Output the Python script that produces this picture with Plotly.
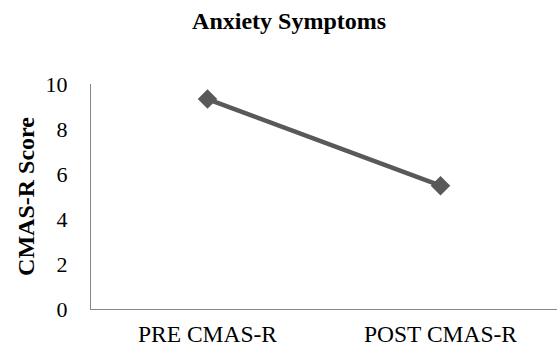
import plotly.graph_objects as go

categories = ["PRE CMAS-R", "POST CMAS-R"]
scores = [9.33, 5.48]
y_ticks = [0, 2, 4, 6, 8, 10]

fig = go.Figure()
fig.add_trace(go.Scatter(
    x=categories, y=scores, mode="lines+markers",
    line=dict(color="#595959", width=4.5),
    marker=dict(symbol="diamond", size=15, color="#595959"),
    showlegend=False,
))

font_family = "Liberation Serif, Times New Roman, serif"
fig.update_layout(
    width=557, height=346,
    margin=dict(l=91, r=0, t=84, b=37),
    paper_bgcolor="white", plot_bgcolor="white",
    font=dict(family=font_family, color="black", size=22),
    title=dict(text="<b>Anxiety Symptoms</b>", x=0.519, xref="container", xanchor="center",
               y=0.94, yref="container", yanchor="middle",
               font=dict(family=font_family, size=24, color="black")),
    xaxis=dict(showline=True, linecolor="#868686", linewidth=1.3, showgrid=False,
               zeroline=False, ticks="", ticklabelstandoff=4, range=[-0.5, 1.5],
               automargin=False, tickfont=dict(size=23.5)),
    yaxis=dict(showline=True, linecolor="#868686", linewidth=1.3, showgrid=False,
               zeroline=False, range=[0, 10], tickvals=y_ticks, ticks="",
               automargin=False,
               ticklabelstandoff=18, tickfont=dict(size=22),
               title=dict(text="<b>CMAS-R Score</b>", standoff=4,
                          font=dict(family=font_family, size=24))),
)
fig.write_html("out.html", config={"displayModeBar": False},
               post_script="document.body.style.margin='0';document.body.style.padding='0';")
